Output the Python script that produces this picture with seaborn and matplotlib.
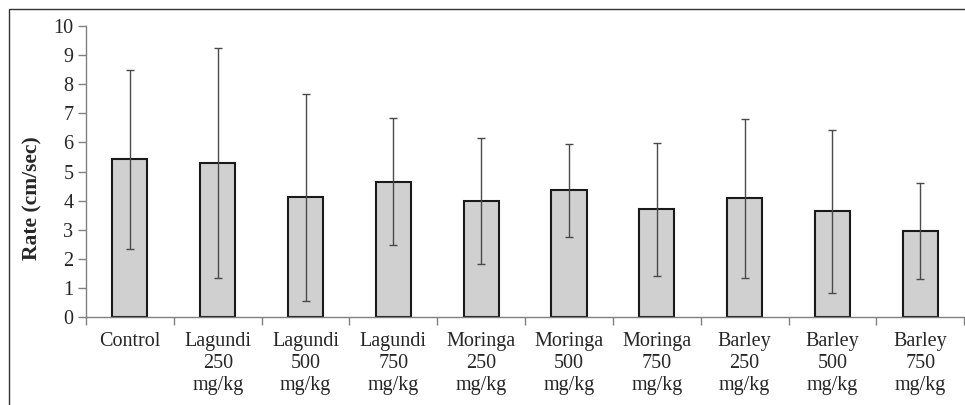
import numpy as np
import pandas as pd
import matplotlib
matplotlib.use('Agg')
import matplotlib.pyplot as plt
from matplotlib.patches import Rectangle
import seaborn as sns

# values
groups = ['Control', 'Lagundi\n250\nmg/kg', 'Lagundi\n500\nmg/kg', 'Lagundi\n750\nmg/kg',
          'Moringa\n250\nmg/kg', 'Moringa\n500\nmg/kg', 'Moringa\n750\nmg/kg',
          'Barley\n250\nmg/kg', 'Barley\n500\nmg/kg', 'Barley\n750\nmg/kg']
rate = [5.42, 5.29, 4.12, 4.65, 3.98, 4.36, 3.70, 4.09, 3.64, 2.95]
sd = [3.08, 3.96, 3.55, 2.18, 2.17, 1.60, 2.28, 2.73, 2.80, 1.64]
yticks = list(range(0, 11))

df = pd.DataFrame({'group': groups, 'rate': rate, 'sd': sd})

sns.set_style('white')
plt.rcParams['font.family'] = ['Liberation Serif', 'DejaVu Serif']

fig = plt.figure(figsize=(9.65, 4.05), dpi=100)
ax = fig.add_axes([0.0891, 0.217, 0.91, 0.719])

sns.barplot(data=df, x='group', y='rate', color='#d0d0d0', saturation=1,
            width=0.4, edgecolor='#1a1a1a', linewidth=1.5, ax=ax, errorbar=None)
ax.errorbar(np.arange(len(df)), df['rate'], yerr=df['sd'], fmt='none',
            ecolor='#4a4a4a', elinewidth=1, capsize=3, capthick=1)

ax.set_xlim(-0.5, len(df) - 0.5)
ax.set_ylim(0, 10)
ax.set_yticks(yticks)
ax.tick_params(axis='y', labelsize=14.5, length=6, width=1, color='#808080', direction='out', left=True, pad=3)
ax.tick_params(axis='x', which='major', length=0, labelsize=14.5, pad=11)
ax.set_xticks(np.arange(-0.5, len(df), 1), minor=True)
ax.tick_params(axis='x', which='minor', length=6, width=1, color='#808080', direction='out', bottom=True)
for lab in ax.get_xticklabels():
    lab.set_linespacing(1.2)

ax.set_xlabel('')
ax.set_ylabel('Rate (cm/sec)', fontsize=15.5, fontweight='bold')
ax.yaxis.set_label_coords(-0.05, 0.41)
sns.despine(ax=ax)
for s in ['left', 'bottom']:
    ax.spines[s].set_color('#808080')
    ax.spines[s].set_linewidth(1)

# outer frame of the original figure
fig.patches.append(Rectangle((9 / 965, -0.1), 1.2, 1.1 - 9 / 405, transform=fig.transFigure,
                             fill=False, edgecolor='#333333', linewidth=1))

fig.savefig('out.png', dpi=100)
